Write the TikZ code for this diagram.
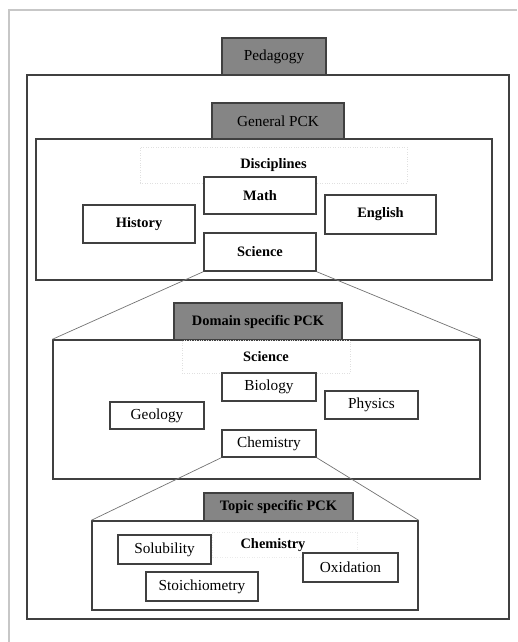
\documentclass[tikz,border=0pt]{standalone}
\usepackage{fontspec}
\setmainfont{Liberation Serif}

\tikzset{
  lvl/.style={draw=black!75, line width=0.8pt, fill=black!48, inner sep=0pt},
  area/.style={draw=black!75, line width=0.8pt, inner sep=0pt},
  item/.style={draw=black!75, line width=0.8pt, fill=white, inner sep=0pt},
  bf/.style={font=\fontsize{8.2}{9.5}\selectfont\bfseries},
  head/.style={draw=black!12, densely dotted, inner sep=0pt, bf},
  zoomline/.style={draw=black!55, line width=0.4pt}
}

\begin{document}
\begin{tikzpicture}[x=0.02cm,y=-0.02cm,font=\fontsize{8.7}{10}\selectfont]
		\useasboundingbox (0,0) rectangle (517,642);
		% page frame
		\draw[black!22, line width=0.6pt] (9,642) -- (9,10) -- (517,10);

		\node[area, minimum width=9.64cm, minimum height=10.88cm] (outer) at (268,347) {};
		\node[lvl, minimum width=2.08cm, minimum height=0.74cm] (ped) at (274,56.5) {Pedagogy};

		% general
		\node[area, minimum width=9.12cm, minimum height=2.82cm] (disc) at (264,209.5) {};
		\node[lvl, minimum width=2.64cm, minimum height=0.72cm] (gen) at (278,121) {General PCK};
		\node[head, minimum width=5.34cm, minimum height=0.72cm] (disclab) at (273.5,165) {Disciplines};
		\node[item, bf, minimum width=2.24cm, minimum height=0.74cm] (math) at (260,195.5) {Math};
		\node[item, bf, minimum width=2.22cm, minimum height=0.78cm] (eng) at (380.5,214.5) {English};
		\node[item, bf, minimum width=2.24cm, minimum height=0.76cm] (hist) at (139,224) {History};
		\node[item, bf, minimum width=2.24cm, minimum height=0.76cm] (sci) at (260,252) {Science};

		% domain
		\node[area, minimum width=8.54cm, minimum height=2.78cm] (dom) at (266.5,409.5) {};
		\node[lvl, bf, minimum width=3.36cm, minimum height=0.74cm] (dpck) at (258,321.5) {Domain specific PCK};
		\node[head, minimum width=3.36cm, minimum height=0.66cm] (scilab) at (266,357) {Science};
		\node[item, minimum width=1.88cm, minimum height=0.56cm] (bio) at (269,387) {Biology};
		\node[item, minimum width=1.86cm, minimum height=0.56cm] (phys) at (371.5,405) {Physics};
		\node[item, minimum width=1.88cm, minimum height=0.54cm] (geo) at (157,415.5) {Geology};
		\node[item, minimum width=1.88cm, minimum height=0.54cm] (chem) at (269,443.5) {Chemistry};
		\draw[zoomline] (sci.south west) -- (dom.north west);
		\draw[zoomline] (sci.south east) -- (dom.north east);

		% topic
		\node[area, minimum width=6.52cm, minimum height=1.78cm] (top) at (255,565.5) {};
		\node[lvl, bf, minimum width=2.98cm, minimum height=0.56cm] (tpck) at (278.5,507) {Topic specific PCK};
		\node[head, draw=black!8, minimum width=2.9cm, minimum height=0.5cm] (chemlab) at (285,545) {};
		\node[bf] (chemtxt) at (273,545) {Chemistry};
		\node[item, minimum width=1.86cm, minimum height=0.58cm] (sol) at (164.5,549.5) {Solubility};
		\node[item, minimum width=1.9cm, minimum height=0.58cm] (oxi) at (350.5,567.5) {Oxidation};
		\node[item, minimum width=2.24cm, minimum height=0.58cm] (sto) at (202,586.5) {Stoichiometry};
		\draw[zoomline] (chem.south west) -- (top.north west);
		\draw[zoomline] (chem.south east) -- (top.north east);
\end{tikzpicture}
\end{document}
